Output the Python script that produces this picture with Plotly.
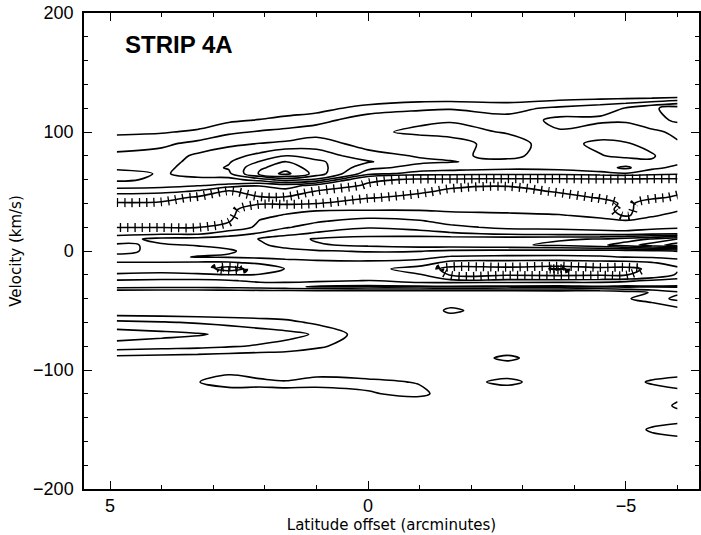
import plotly.graph_objects as go

# Latitude offset (arcminutes) of each sampled column
LAT = [4.87, 4.0, 3.3, 2.7, 2.1, 1.6, 1.0, 0.0, -1.0, -1.6, -2.7, -3.7, -4.5, -5.0, -5.5, -6.0]
# Velocity (km/s) of each sampled row
VEL = [-165, -150, -140, -130, -120, -110, -100, -90, -80, -70, -60, -50, -40,
       -35, -30, -25, -20, -15, -10, -5, 0, 5, 10, 15, 20, 25, 30, 35, 40, 45,
       50, 55, 60, 65, 70, 75, 80, 90, 100, 110, 120, 130, 140, 160]

# Intensity rows (one per velocity), values estimated from the contour map
T_m165 = [0, 0, 0, 0, 0, 0, 0, 0, 0, 0, 0, 0, 0, 0, 0, 0]
T_m150 = [0, 0, 0, 0, 0, 0, 0, 0, 0, 0, 0, 0, 0, 0.3, 1.2, 1.6]
T_m140 = [0, 0, 0, 0, 0, 0, 0, 0, 0, 0, 0, 0, 0, 0, 0.2, 0.4]
T_m130 = [0, 0, 0, 0, 0, 0, 0, 0, 0, 0, 0, 0, 0, 0, 0.3, 1.2]
T_m120 = [0, 0, 0, 0.3, 0.6, 0.9, 0.4, 0.9, 1.3, 0.4, 0, 0, 0, 0, 0.2, 0.6]
T_m110 = [0, 0, 0.95, 1.6, 1.3, 1.1, 1.5, 1.3, 0.9, 0.3, 1.4, 0, 0, 0.4, 1.2, 1.5]
T_m100 = [0, 0, 0, 0.6, 0.2, 0, 0.3, 0.1, 0, 0, 0, 0, 0, 0, 0, 0.3]
T_m90 = [0.6, 0.5, 0.4, 0.3, 0.2, 0.2, 0.1, 0, 0, 0, 1.3, 0, 0, 0, 0, 0]
T_m80 = [2.6, 2.4, 2.3, 2.1, 1.9, 1.7, 1.2, 0.3, 0, 0, 0, 0, 0, 0, 0, 0]
T_m70 = [3.5, 3.3, 3.1, 2.8, 2.5, 2.3, 1.9, 0.4, 0, 0, 0, 0, 0, 0, 0, 0]
T_m60 = [2.3, 2.1, 1.9, 1.7, 1.5, 1.3, 0.8, 0.2, 0, 0, 0, 0, 0, 0, 0, 0]
T_m50 = [0, 0, 0, 0, 0, 0, 0, 0, 0, 1.3, 0, 0, 0, 0, 0.2, 0.5]
T_m40 = [0, 0, 0, 0, 0, 0, 0, 0, 0, 0, 0, 0, 0.3, 0.9, 1.4, 2.3]
T_m35 = [0, 0, 0, 0, 0, 0, 0, 0, 0, 0, 0, 0, 0, 0.4, 1.1, 1.8]
T_m30 = [2.4, 2.3, 2.3, 2.4, 2.6, 2.8, 3.1, 3.2, 3.2, 3.1, 3.2, 3.3, 3.1, 3.2, 3.1, 3.1]
T_m25 = [2.1, 2.2, 2.2, 2.1, 1.8, 1.7, 1.8, 2.05, 1.5, 1.5, 1.5, 1.5, 1.6, 1.8, 2.2, 2.4]
T_m20 = [1.1, 1.2, 1.2, 1.05, 1.1, 1.2, 1.3, 1.3, 1.1, -1.2, -1.2, -1.4, -1.2, -1.1, -0.3, 1.2]
T_m15 = [0.6, 0.6, 0.2, -1.95, 0.0, 1.05, 1.3, 1.4, 0.5, -1.8, -1.6, -2.1, -1.5, -1.6, -0.6, 0.8]
T_m10 = [0.9, 0.9, 0.8, 0.8, 1.2, 1.5, 1.7, 1.8, 1.6, 0.6, 0.5, 0.4, 0.6, 0.6, 0.9, 1.4]
T_m5 = [1.8, 1.8, 2.05, 2.1, 2.2, 2.3, 2.4, 2.4, 2.3, 1.9, 1.8, 1.8, 1.9, 2.05, 2.1, 2.3]
T_0 = [2.2, 1.8, 1.7, 1.9, 2.3, 2.6, 2.9, 3.1, 3.05, 2.8, 2.7, 2.6, 2.5, 2.6, 2.8, 3.05]
T_p5 = [2.1, 1.9, 2.05, 2.2, 2.8, 3.4, 3.9, 4.2, 4.5, 4.6, 4.8, 5.2, 5.8, 6.5, 7.5, 8.5]
T_p10 = [1.6, 2.3, 2.4, 2.6, 3.05, 3.6, 4.1, 4.3, 4.5, 4.6, 4.7, 4.9, 5.05, 5.5, 6.1, 7.1]
T_p15 = [0.6, 0.7, 0.7, 1.4, 2.05, 2.6, 3.1, 3.6, 3.4, 3.1, 2.6, 2.4, 2.3, 2.2, 2.4, 2.5]
T_p20 = [-1.1, -1.1, -1.1, 0.4, 1.2, 1.9, 2.4, 2.9, 2.6, 2.2, 1.8, 1.8, 1.7, 1.7, 1.8, 1.9]
T_p25 = [-1.5, -1.5, -1.5, -1.2, 1.1, 1.6, 1.9, 2.4, 2.1, 1.7, 1.5, 1.6, 1.5, 1.4, 1.6, 1.7]
T_p30 = [-1.5, -1.5, -1.5, -1.4, 0.6, 1.1, 1.3, 1.6, 1.5, 1.3, 1.2, 1.1, 0.6, -1.4, 0.8, 1.4]
T_p35 = [-1.3, -1.4, -1.3, -1.5, 0.2, 0.5, 0.9, 0.9, 0.9, 0.8, 0.7, 0.3, -0.3, -1.6, 0.5, 0.8]
T_p40 = [-1.2, -1.3, -1.4, -1.5, -1.2, -1.3, -1.1, 0.3, 0.5, 0.6, 0.5, 0.4, 0.3, -1.6, 0.2, 0.4]
T_p45 = [0.2, -0.2, -1.3, -1.5, -1.2, -1.2, -1.3, -1.2, -0.4, 0.4, 0.6, 0.2, -1.3, -1.6, -1.4, -0.7]
T_p50 = [1.5, 1.4, 0.8, -1.4, 0.3, 0.6, -1.2, -1.4, -1.3, -0.6, 0.3, -1.3, -1.5, -1.5, -1.4, -1.4]
T_p55 = [2.4, 2.3, 2.05, 1.8, 1.05, 1.5, 0.6, -1.3, -1.5, -1.4, -1.2, -1.4, -1.5, -1.4, -1.5, -1.5]
T_p60 = [3.2, 2.8, 2.8, 2.6, 3.5, 4.5, 3.8, -0.6, -1.3, -1.3, -1.4, -1.4, -1.3, -1.3, -1.4, -1.4]
T_p65 = [3.4, 2.9, 3.3, 3.8, 6.2, 7.3, 5.6, 2.4, 1.6, 1.5, 1.4, 1.4, 1.7, 1.9, 1.5, 1.3]
T_p70 = [2.8, 2.7, 3.5, 4.1, 5.8, 6.6, 5.5, 3.3, 2.6, 2.4, 2.2, 2.3, 2.6, 3.2, 2.2, 1.8]
T_p75 = [2.4, 2.5, 3.4, 3.9, 5.05, 6.05, 5.2, 4.1, 3.2, 3.05, 2.7, 2.6, 2.3, 2.4, 2.1, 2.2]
T_p80 = [2.2, 2.4, 3.2, 3.6, 4.3, 5.05, 4.6, 3.4, 2.9, 2.8, 3.3, 2.4, 2.05, 1.8, 1.9, 2.6]
T_p90 = [1.6, 1.8, 2.3, 2.8, 3.05, 3.2, 3.5, 2.6, 2.4, 2.5, 3.6, 2.3, 1.8, 1.9, 2.3, 2.9]
T_p100 = [0.8, 0.9, 1.2, 1.8, 2.1, 2.3, 2.6, 2.8, 3.2, 3.4, 2.9, 2.9, 2.4, 2.6, 2.8, 3.2]
T_p110 = [0, 0.1, 0.3, 0.8, 1.05, 1.3, 1.6, 2.6, 2.8, 2.9, 2.3, 3.3, 3.2, 3.1, 3.6, 4.2]
T_p120 = [0, 0, 0, 0, 0.2, 0.4, 0.6, 1.4, 1.8, 1.9, 1.7, 2.2, 2.6, 3.05, 3.8, 4.5]
T_p130 = [0, 0, 0, 0, 0, 0, 0, 0, 0.3, 0.3, 0.2, 0.4, 0.5, 0.5, 0.5, 0.6]
T_p140 = [0, 0, 0, 0, 0, 0, 0, 0, 0, 0, 0, 0, 0, 0, 0, 0]
T_p160 = [0, 0, 0, 0, 0, 0, 0, 0, 0, 0, 0, 0, 0, 0, 0, 0]

ROWS = [T_m165, T_m150, T_m140, T_m130, T_m120, T_m110, T_m100, T_m90, T_m80,
        T_m70, T_m60, T_m50, T_m40, T_m35, T_m30, T_m25, T_m20, T_m15, T_m10,
        T_m5, T_0, T_p5, T_p10, T_p15, T_p20, T_p25, T_p30, T_p35, T_p40,
        T_p45, T_p50, T_p55, T_p60, T_p65, T_p70, T_p75, T_p80, T_p90,
        T_p100, T_p110, T_p120, T_p130, T_p140, T_p160]

# plotly wants increasing x
X_inc = LAT[::-1]
Z = [r[::-1] for r in ROWS]

POS_LEVELS = dict(start=1, end=9, size=1)
NEG_LEVELS = dict(start=-2, end=-1, size=1)

fig = go.Figure()
common = dict(x=X_inc, y=VEL, z=Z, autocontour=False, showscale=False,
              hoverinfo="skip")

fig.add_trace(go.Contour(
    **common,
    contours=dict(coloring="none", showlabels=False, **POS_LEVELS),
    line=dict(color="black", width=1.6, smoothing=1.0)))
# depression contours: solid line + hachures
fig.add_trace(go.Contour(
    **common,
    contours=dict(coloring="none", showlabels=False, **NEG_LEVELS),
    line=dict(color="black", width=1.6, smoothing=1.0)))
fig.add_trace(go.Contour(
    **common,
    contours=dict(coloring="none", showlabels=False, **NEG_LEVELS),
    line=dict(color="black", width=9, smoothing=1.0, dash="1.3px,6px")))

tickfont = dict(family="Liberation Sans, Arial, sans-serif", size=18, color="black")
titlefont = dict(family="DejaVu Sans, sans-serif", size=15, color="black")

axis_common = dict(
    ticks="inside", ticklen=8, tickwidth=1.3, tickcolor="black",
    showline=True, linecolor="black", linewidth=1.5, mirror="ticks",
    showgrid=False, zeroline=False, tickfont=tickfont, automargin=False,
)

fig.update_layout(
    width=701, height=535,
    margin=dict(l=84, r=2, t=13, b=46, autoexpand=False),
    paper_bgcolor="white", plot_bgcolor="white",
    showlegend=False,
    xaxis=dict(
        range=[5.504, -6.415], tickmode="linear", tick0=0, dtick=5,
        minor=dict(dtick=1, tick0=0, ticks="inside", ticklen=4,
                   tickcolor="black", tickwidth=1.1),
        ticklabelstandoff=0,
        title=dict(text="Latitude offset (arcminutes)", font=titlefont, standoff=3),
        **axis_common),
    yaxis=dict(
        range=[-200, 200], tickmode="linear", tick0=0, dtick=100,
        minor=dict(dtick=20, tick0=0, ticks="inside", ticklen=4,
                   tickcolor="black", tickwidth=1.1),
        ticklabelstandoff=5,
        title=dict(text="Velocity (km/s)", font=titlefont, standoff=8),
        **axis_common),
    annotations=[dict(
        text="<b>STRIP 4A</b>", xref="paper", yref="paper",
        x=0.0634, y=0.933, xanchor="left", yanchor="middle", showarrow=False,
        font=dict(family="Liberation Sans, Arial, sans-serif", size=24, color="black"))],
)

fig.write_html(
    "out.html",
    config={"displayModeBar": False},
    post_script="document.body.style.margin='0px';document.body.style.overflow='hidden';",
)
